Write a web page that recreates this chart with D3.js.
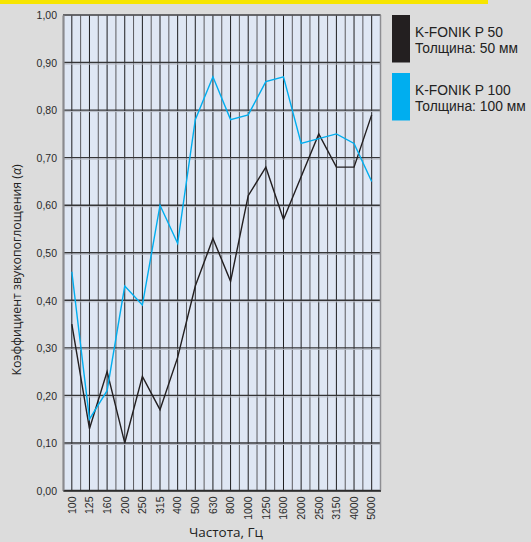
<!DOCTYPE html>
<html><head><meta charset="utf-8">
<script src="https://cdn.jsdelivr.net/npm/d3@7/dist/d3.min.js"></script>
<style>
body{margin:0;background:#dcdcdc;}
svg{display:block;font-family:"Open Sans","Noto Sans",sans-serif;}
</style></head><body>
<svg id="c" width="531" height="542"></svg>
<script>
const categories = ["100","125","160","200","250","315","400","500","630","800","1000","1250","1600","2000","2500","3150","4000","5000"];
const seriesP50 = [0.35,0.13,0.25,0.10,0.24,0.17,0.28,0.43,0.53,0.44,0.62,0.68,0.57,0.66,0.75,0.68,0.68,0.79];
const seriesP100 = [0.46,0.15,0.21,0.43,0.39,0.60,0.52,0.78,0.87,0.78,0.79,0.86,0.87,0.73,0.74,0.75,0.73,0.65];
const yTicks = [0,0.1,0.2,0.3,0.4,0.5,0.6,0.7,0.8,0.9,1.0];
const seriesNames = [["K-FONIK P 50","Толщина: 50 мм"],["K-FONIK P 100","Толщина: 100 мм"]];
const colors = ["#231f20","#00aeef"];

const svg = d3.select("#c");
svg.append("rect").attr("x",0).attr("y",0).attr("width",531).attr("height",542).attr("fill","#dcdcdc");
svg.append("rect").attr("x",0).attr("y",0).attr("width",488).attr("height",4).attr("fill","#f7e500");

const L=63, R=380.5, T=15, B=490.5;
const x = d3.scaleBand().domain(categories).range([L,R]);
const y = d3.scaleLinear().domain([0,1]).range([B,T]);
const cx = d => x(d)+x.bandwidth()/2;

svg.append("rect").attr("x",L).attr("y",T).attr("width",R-L).attr("height",B-T).attr("fill","#dfe7f4");

// vertical grid lines: category centers and boundaries
const g = svg.append("g");
categories.forEach((c,i)=>{
  if(i>0) g.append("line").attr("x1",x(c)).attr("x2",x(c)).attr("y1",T).attr("y2",B).attr("stroke","#5a5a5e").attr("stroke-width",1);
  g.append("line").attr("x1",cx(c)).attr("x2",cx(c)).attr("y1",T).attr("y2",B).attr("stroke","#1e1e20").attr("stroke-width",1);
});
// horizontal grid
yTicks.forEach(t=>{
  g.append("line").attr("x1",L).attr("x2",R).attr("y1",y(t)).attr("y2",y(t)).attr("stroke","#353537").attr("stroke-width",1.4);
  if(t>0 && t<1) g.append("line").attr("x1",L).attr("x2",R).attr("y1",y(t)+1.5).attr("y2",y(t)+1.5).attr("stroke","#b8bcc6").attr("stroke-width",1);
});
// border
svg.append("line").attr("x1",R).attr("x2",R).attr("y1",T).attr("y2",B).attr("stroke","#8e8e92").attr("stroke-width",1.5);
svg.append("line").attr("x1",L).attr("x2",R).attr("y1",T).attr("y2",T).attr("stroke","#6e6e72").attr("stroke-width",1);

// y axis
const yAxis = d3.axisLeft(y).tickValues(yTicks).tickSize(0).tickPadding(6)
  .tickFormat(d=>d3.format(".2f")(d).replace(".",","));
const ya = svg.append("g").attr("transform",`translate(${L},0)`).call(yAxis);
ya.select(".domain").attr("stroke","#8a8a8e").attr("stroke-width",2.2);
ya.selectAll("text").attr("font-size",10.5).attr("fill","#2a2a2a").attr("dy","0.36em");

// x axis
const xAxis = d3.axisBottom(x).tickSize(0).tickPadding(0);
const xa = svg.append("g").attr("transform",`translate(0,${B})`).call(xAxis);
xa.select(".domain").attr("stroke","#2a2a2a").attr("stroke-width",1.5);
xa.selectAll("text").attr("font-size",10.5).attr("fill","#2a2a2a")
  .attr("transform","rotate(-90)").attr("text-anchor","end").attr("x",-6).attr("y",0).attr("dy","0.36em");

// lines
const line = d3.line().x((d,i)=>cx(categories[i])).y(d=>y(d));
[seriesP50,seriesP100].forEach((s,k)=>{
  svg.append("path").datum(s).attr("d",line).attr("fill","none").attr("stroke",colors[k]).attr("stroke-width",1.4).attr("stroke-linejoin","miter");
});

// axis titles
svg.append("text").attr("x",226).attr("y",537).attr("text-anchor","middle").attr("font-size",13.5).attr("fill","#222").text("Частота, Гц");
const yt = svg.append("text").attr("transform","translate(21,270) rotate(-90)").attr("text-anchor","middle").attr("font-size",12.3).attr("fill","#222");
yt.append("tspan").text("Коэффициент звукопоглощения (");
yt.append("tspan").attr("font-style","italic").text("α");
yt.append("tspan").text(")");

// legend
seriesNames.forEach((nm,k)=>{
  const y0 = 15 + k*58;
  svg.append("rect").attr("x",392).attr("y",y0).attr("width",18).attr("height",47.5).attr("fill",colors[k]);
  nm.forEach((t,j)=>{
    svg.append("text").attr("x",415).attr("y",y0+21.7+j*16.7)
      .attr("font-family","'Liberation Sans',Arial,sans-serif").attr("font-size",13.8).attr("fill","#222").text(t);
  });
});
</script></body></html>
